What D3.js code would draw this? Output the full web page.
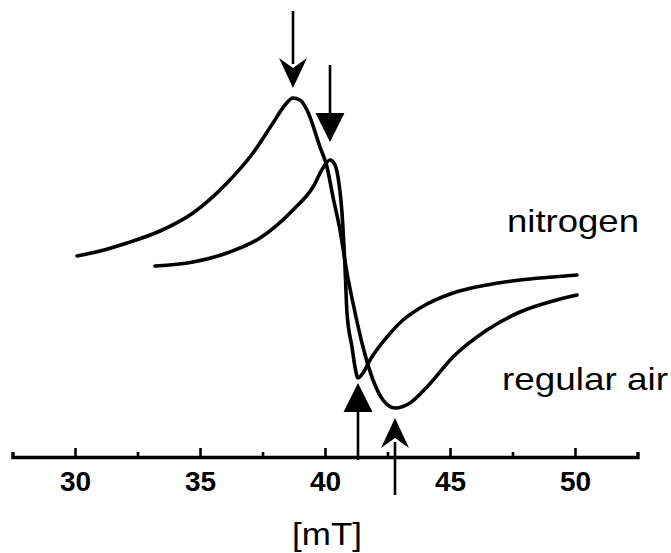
<!DOCTYPE html>
<html>
<head>
<meta charset="utf-8">
<script src="https://cdn.jsdelivr.net/npm/d3@7"></script>
<style>
  body { margin: 0; background: #fff; }
  svg { display: block; }
</style>
</head>
<body>
<svg id="chart" width="671" height="553"></svg>
<script>
// First-derivative EPR spectra: magnetic field (mT) vs signal (a.u.)
const airField = [30.08, 31.0, 32.08, 33.4, 34.72, 36.08, 37.12, 37.92, 38.4, 38.72, 39.0, 39.28, 39.8, 40.08, 40.32, 40.6, 40.88, 41.12, 41.52, 41.92, 42.32, 42.8, 43.4, 44.08, 45.12, 46.48, 47.8, 49.12, 50.08];
const airSignal = [0.04, 0.09, 0.17, 0.29, 0.47, 0.77, 1.07, 1.37, 1.55, 1.62, 1.60, 1.50, 1.13, 0.93, 0.63, 0.30, -0.13, -0.43, -0.87, -1.20, -1.40, -1.48, -1.43, -1.27, -0.97, -0.70, -0.52, -0.41, -0.35];

const nitrogenField = [33.2, 34.72, 36.08, 37.4, 38.72, 39.52, 39.92, 40.2, 40.4, 40.52, 40.68, 40.8, 40.88, 41.08, 41.2, 41.32, 41.52, 41.8, 42.48, 43.12, 43.8, 45.12, 46.48, 47.8, 49.12, 50.08];
const nitrogenSignal = [-0.06, -0.02, 0.07, 0.22, 0.50, 0.73, 0.92, 1.00, 0.95, 0.83, 0.47, -0.07, -0.53, -0.87, -1.07, -1.18, -1.13, -1.00, -0.77, -0.60, -0.48, -0.33, -0.25, -0.20, -0.17, -0.15];

const fieldDomain = [27.5, 52.5];
const majorTicks = [30, 35, 40, 45, 50];
const minorTicks = [32.5, 37.5, 42.5, 47.5];
const axisTitle = "[mT]";
const seriesNames = ["nitrogen", "regular air"];

const svg = d3.select("#chart");

const x = d3.scaleLinear().domain(fieldDomain).range([12.5, 637.5]);
const y = d3.scaleLinear().domain([-2, 2]).range([460, 60]);

const series = {
  air: airField.map((f, i) => ({ f, v: airSignal[i] })),
  nitrogen: nitrogenField.map((f, i) => ({ f, v: nitrogenSignal[i] }))
};

// spectra
const line = d3.line()
  .x(d => x(d.f))
  .y(d => y(d.v))
  .curve(d3.curveMonotoneX);

svg.selectAll("path.spectrum")
  .data([series.air, series.nitrogen])
  .join("path")
  .attr("class", "spectrum")
  .attr("d", line)
  .attr("fill", "none")
  .attr("stroke", "#000")
  .attr("stroke-width", 3.6)
  .attr("stroke-linejoin", "round")
  .attr("stroke-linecap", "round");

// field axis, ticks pointing up
const axisY = 457;
const gAxis = svg.append("g").attr("transform", `translate(0,${axisY})`);
gAxis.call(
  d3.axisBottom(x)
    .tickValues(majorTicks)
    .tickSizeInner(-9)
    .tickSizeOuter(-5)
    .tickPadding(14)
    .tickFormat(d3.format("d"))
);
gAxis.select(".domain").attr("stroke-width", 3.4);
gAxis.selectAll(".tick line").attr("stroke-width", 2.6);
gAxis.selectAll(".tick text")
  .attr("font-family", "'Liberation Sans', Arial, sans-serif")
  .attr("font-weight", "bold")
  .attr("font-size", 28)
  .attr("fill", "#000");

const gMinor = svg.append("g").attr("transform", `translate(0,${axisY})`);
gMinor.call(d3.axisBottom(x).tickValues(minorTicks).tickSize(-5).tickFormat(""));
gMinor.select(".domain").remove();
gMinor.selectAll(".tick line").attr("stroke-width", 2.6);

// axis title and series labels
const labelFont = "'Liberation Sans', Arial, sans-serif";
svg.append("text")
  .attr("x", x(40) + 2)
  .attr("y", 545)
  .attr("text-anchor", "middle")
  .attr("font-family", labelFont)
  .attr("font-size", 32)
  .attr("textLength", 70)
  .attr("lengthAdjust", "spacingAndGlyphs")
  .text(axisTitle);

svg.append("text")
  .attr("x", 507).attr("y", 232)
  .attr("font-family", labelFont)
  .attr("font-size", 32)
  .attr("textLength", 132)
  .attr("lengthAdjust", "spacingAndGlyphs")
  .text(seriesNames[0]);

svg.append("text")
  .attr("x", 502).attr("y", 390)
  .attr("font-family", labelFont)
  .attr("font-size", 32)
  .attr("textLength", 166)
  .attr("lengthAdjust", "spacingAndGlyphs")
  .text(seriesNames[1]);

// arrows marking the peak and trough of each spectrum
const arrowSpecs = [
  { key: "air", at: "max", head: "barbed", gap: 10 },
  { key: "nitrogen", at: "max", head: "flat", gap: 18 },
  { key: "nitrogen", at: "min", head: "flat", gap: 5 },
  { key: "air", at: "min", head: "barbed", gap: 10 }
];
const arrowLen = 77;

arrowSpecs.forEach(s => {
  const pts = series[s.key];
  const p = s.at === "max"
    ? pts[d3.maxIndex(pts, d => d.v)]
    : pts[d3.minIndex(pts, d => d.v)];
  const dir = s.at === "max" ? 1 : -1;      // 1 = pointing down
  const px = x(p.f);
  const tip = y(p.v) - dir * s.gap;
  const h = s.head === "barbed" ? 30 : 29;
  const w = s.head === "barbed" ? 28 : 29;

  svg.append("line")
    .attr("x1", px).attr("x2", px)
    .attr("y1", tip - dir * arrowLen)
    .attr("y2", tip - dir * (h - 6))
    .attr("stroke", "#000")
    .attr("stroke-width", 2.6);

  let d;
  if (s.head === "barbed") {
    const notch = 10;
    d = `M${px},${tip} L${px - w / 2},${tip - dir * h} L${px},${tip - dir * (h - notch)} L${px + w / 2},${tip - dir * h} Z`;
  } else {
    d = `M${px},${tip} L${px - w / 2},${tip - dir * h} L${px + w / 2},${tip - dir * h} Z`;
  }
  svg.append("path").attr("d", d).attr("fill", "#000");
});
</script>
</body>
</html>
